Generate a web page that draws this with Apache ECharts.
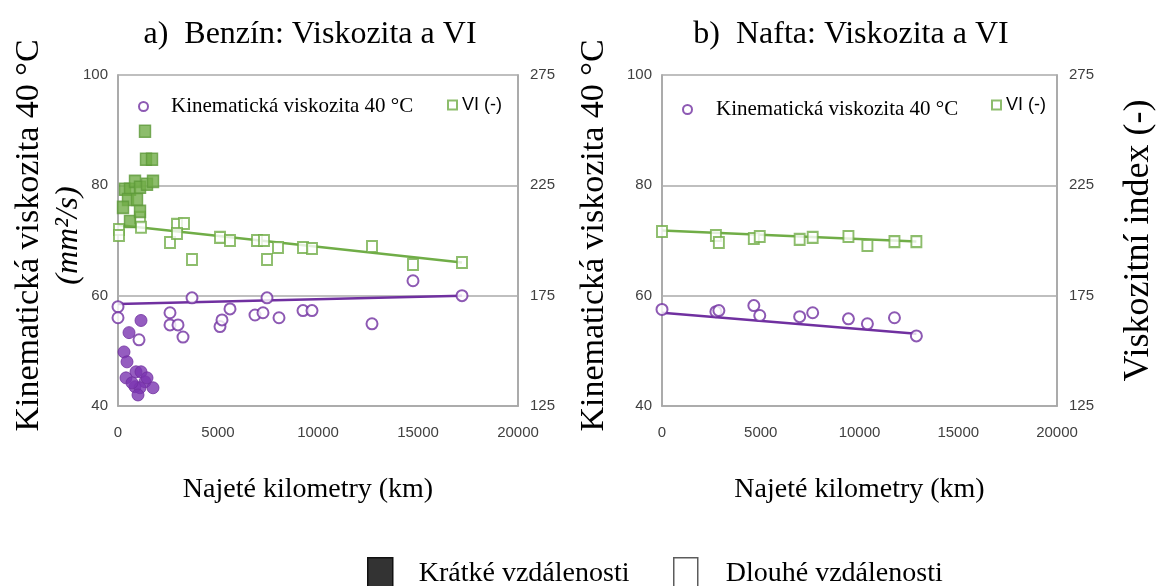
<!DOCTYPE html>
<html>
<head>
<meta charset="utf-8">
<script src="https://cdn.jsdelivr.net/npm/echarts@6/dist/echarts.min.js"></script>
<style>
html,body{margin:0;padding:0;background:#fff;}
#chart{width:1158px;height:586px;}
</style>
</head>
<body>
<div id="chart"></div>
<script>
// ---- Data (km, value) ----
const xTicks = [0, 5000, 10000, 15000, 20000];
const viscTicks = [40, 60, 80, 100];
const viTicks = [125, 175, 225, 275];

// a) Benzín — short distances (filled)
const benzinShortVisc = [[300,49.8],[450,48.0],[400,45.1],[550,53.3],[1150,55.5],[900,46.2],[1150,46.2],[850,43.5],[1350,44.4],[1100,43.3],[1750,43.3],[1000,42.0],[700,44.2],[1450,45.1]];
const benzinShortVI = [[1350,249.5],[1400,236.8],[1700,236.8],[350,223.2],[600,223.2],[850,226.8],[1100,224.1],[1450,225.5],[1750,226.8],[500,218.6],[950,218.6],[250,215.0],[600,208.6],[1100,213.2]];
// a) Benzín — long distances (open)
const benzinLongVisc = [[0,58.0],[0,56.0],[1050,52.0],[2600,56.9],[2600,54.7],[3000,54.7],[3250,52.5],[3700,59.6],[5100,54.4],[5200,55.6],[5600,57.6],[6850,56.5],[7250,56.9],[7450,59.6],[8050,56.0],[9250,57.3],[9700,57.3],[12700,54.9],[14750,62.7],[17200,60.0]];
const benzinLongVI = [[50,205.0],[50,202.3],[1100,210.5],[1150,206.0],[2600,199.1],[2950,207.3],[3300,207.7],[2950,203.2],[3700,191.4],[5100,201.4],[5600,200.0],[6950,200.0],[7300,200.0],[7450,191.4],[8000,196.8],[9250,196.8],[9700,196.4],[12700,197.3],[14750,189.1],[17200,190.0]];
const benzinViscTrend = [[0,58.5],[17200,60.0]];
const benzinVITrend = [[0,207.0],[17200,190.0]];

// b) Nafta — long distances (open)
const naftaVisc = [[0,57.5],[2730,57.1],[2880,57.3],[4650,58.2],[4950,56.4],[6970,56.2],[7630,56.9],[9440,55.8],[10400,54.9],[11770,56.0],[12880,52.7]];
const naftaVI = [[0,204.1],[2730,202.3],[2880,199.1],[4650,200.9],[4950,201.8],[6970,200.5],[7630,201.4],[9440,201.8],[10400,197.7],[11770,199.5],[12880,199.5]];
const naftaViscTrend = [[0,56.9],[12880,53.1]];
const naftaVITrend = [[0,204.5],[12880,199.5]];

// ---- Styling ----
const PURPLE = '#7030A0';
const GREEN = '#70AD47';
const GREEN_DARK = '#5E9A3A';
const SERIF = 'Liberation Serif';
const SANS = 'Liberation Sans';
const AXIS_GRAY = '#A6A6A6';

function xAxis(gridIndex, namePad){
  return {
    type:'value', gridIndex, min:xTicks[0], max:xTicks[xTicks.length-1], interval:xTicks[1]-xTicks[0],
    axisLine:{show:true, lineStyle:{color:AXIS_GRAY, width:1.5}},
    axisTick:{show:false}, splitLine:{show:false},
    axisLabel:{fontFamily:SANS, fontSize:15, color:'#404040', margin:19, formatter:v => String(v)},
    name:'Najeté kilometry (km)', nameLocation:'middle', nameGap:70, nameMoveOverlap:false,
    nameTextStyle:{fontFamily:SERIF, fontSize:28, color:'#000', padding:namePad}
  };
}
function viscAxis(gridIndex, name, gap){
  return {
    type:'value', gridIndex, position:'left', min:viscTicks[0], max:viscTicks[viscTicks.length-1], interval:viscTicks[1]-viscTicks[0],
    axisLine:{show:true, lineStyle:{color:AXIS_GRAY, width:1.5}},
    axisTick:{show:false},
    splitLine:{show:true, lineStyle:{color:'#BFBFBF', width:2}},
    axisLabel:{fontFamily:SANS, fontSize:15, color:'#404040', margin:10},
    name, nameLocation:'middle', nameRotate:90, nameGap:gap, nameMoveOverlap:false,
    nameTextStyle:{fontFamily:SERIF, fontSize:34, color:'#000', lineHeight:39, padding:[0,0,0,10],
      rich:{a:{fontFamily:SERIF, fontSize:34, color:'#000', lineHeight:39},
            b:{fontFamily:SERIF, fontSize:32, fontStyle:'italic', color:'#000', lineHeight:39}}}
  };
}
function viAxis(gridIndex, name, gap){
  return {
    type:'value', gridIndex, position:'right', min:viTicks[0], max:viTicks[viTicks.length-1], interval:viTicks[1]-viTicks[0],
    axisLine:{show:true, lineStyle:{color:AXIS_GRAY, width:1.5}},
    axisTick:{show:false}, splitLine:{show:false},
    axisLabel:{fontFamily:SANS, fontSize:15, color:'#404040', margin:12},
    name, nameLocation:'middle', nameRotate:90, nameGap:gap, nameMoveOverlap:false,
    nameTextStyle:{fontFamily:SERIF, fontSize:36, color:'#000'}
  };
}
function openCircle(name, data, xi, yi){
  return {type:'scatter', name, data, xAxisIndex:xi, yAxisIndex:yi, symbol:'circle', symbolSize:11, z:5,
    itemStyle:{color:'#fff', borderColor:PURPLE, borderWidth:2}};
}
function filledCircle(name, data, xi, yi){
  return {type:'scatter', name, data, xAxisIndex:xi, yAxisIndex:yi, symbol:'circle', symbolSize:12, z:5,
    itemStyle:{color:'#7B35B0', borderColor:PURPLE, borderWidth:1}};
}
function openSquare(name, data, xi, yi){
  return {type:'scatter', name, data, xAxisIndex:xi, yAxisIndex:yi, symbol:'rect', symbolSize:[10,11], z:5,
    itemStyle:{color:'#fff', borderColor:GREEN, borderWidth:2}};
}
function filledSquare(name, data, xi, yi){
  return {type:'scatter', name, data, xAxisIndex:xi, yAxisIndex:yi, symbol:'rect', symbolSize:[11,12], z:5,
    itemStyle:{color:GREEN, borderColor:GREEN_DARK, borderWidth:1.5}};
}
function trend(data, xi, yi, color){
  return {type:'line', data, xAxisIndex:xi, yAxisIndex:yi, symbol:'none', z:3, silent:true,
    lineStyle:{color, width:2.5}};
}

const VISC = 'Kinematická viskozita 40 °C';
const VI = 'VI (-)';

function innerLegend(name, left, top, font, size, pad){
  return {data:[name], left, top, orient:'horizontal', itemWidth:9, itemHeight:9,
    itemGap:0, textStyle:{fontFamily:font, fontSize:size, color:'#000', padding:[0,0,0,pad]}, selectedMode:false};
}

const chart = echarts.init(document.getElementById('chart'), null, {renderer:'canvas'});
chart.setOption({
  animation:false,
  backgroundColor:'#fff',
  title:[
    {text:'a)  Benzín: Viskozita a VI', left:305, top:14, textAlign:'center',
     textStyle:{fontFamily:SERIF, fontSize:32, fontWeight:'normal', color:'#000'}},
    {text:'b)  Nafta: Viskozita a VI', left:846, top:14, textAlign:'center',
     textStyle:{fontFamily:SERIF, fontSize:32, fontWeight:'normal', color:'#000'}}
  ],
  grid:[
    {left:118, right:640, top:75, bottom:180, show:true, borderColor:AXIS_GRAY, borderWidth:1.5, backgroundColor:'transparent'},
    {left:662, right:100, top:75, bottom:180, show:true, borderColor:AXIS_GRAY, borderWidth:1.5, backgroundColor:'transparent'}
  ],
  xAxis:[xAxis(0, [0,20,0,0]), xAxis(1, 0)],
  yAxis:[
    viscAxis(0, '{a|Kinematická viskozita 40 °C}\n{b|(mm²/s)}', 30),
    viAxis(0, '', 40),
    viscAxis(1, 'Kinematická viskozita 40 °C', 48),
    viAxis(1, 'Viskozitní index (-)', 64)
  ],
  legend:[
    innerLegend(VISC, 133, 91, SERIF, 21, 18),
    innerLegend(VI, 442, 91, SANS, 18, 0),
    innerLegend(VISC, 677, 94, SERIF, 21, 19),
    innerLegend(VI, 986, 91, SANS, 18, 0),
    {data:[{name:'Krátké vzdálenosti', itemStyle:{color:'#333333', borderColor:'#111', borderWidth:1.5, opacity:1}}],
     left:362, top:552, itemWidth:25, itemHeight:32, selectedMode:false,
     textStyle:{fontFamily:SERIF, fontSize:28, color:'#000', padding:[0,0,0,21]}},
    {data:[{name:'Dlouhé vzdálenosti', itemStyle:{color:'#fff', borderColor:'#333', borderWidth:1.5}}],
     left:668, top:552, itemWidth:24, itemHeight:32, selectedMode:false,
     textStyle:{fontFamily:SERIF, fontSize:28, color:'#000', padding:[0,0,0,23]}}
  ],
  series:[
    trend(benzinViscTrend, 0, 0, PURPLE),
    trend(benzinVITrend, 0, 1, GREEN),
    openCircle(VISC, benzinLongVisc, 0, 0),
    filledCircle('Krátké – viskozita', benzinShortVisc, 0, 0),
    openSquare(VI, benzinLongVI, 0, 1),
    filledSquare('Krátké – VI', benzinShortVI, 0, 1),
    trend(naftaViscTrend, 1, 2, PURPLE),
    trend(naftaVITrend, 1, 3, GREEN),
    openCircle(VISC, naftaVisc, 1, 2),
    openSquare(VI, naftaVI, 1, 3),
    {type:'scatter', name:'Krátké vzdálenosti', data:[], xAxisIndex:0, yAxisIndex:0, symbol:'rect',
     itemStyle:{color:'#333333', borderColor:'#111', borderWidth:1.5}},
    {type:'scatter', name:'Dlouhé vzdálenosti', data:[], xAxisIndex:0, yAxisIndex:0, symbol:'rect',
     itemStyle:{color:'#fff', borderColor:'#333', borderWidth:1.5}}
  ]
});
</script>
</body>
</html>
